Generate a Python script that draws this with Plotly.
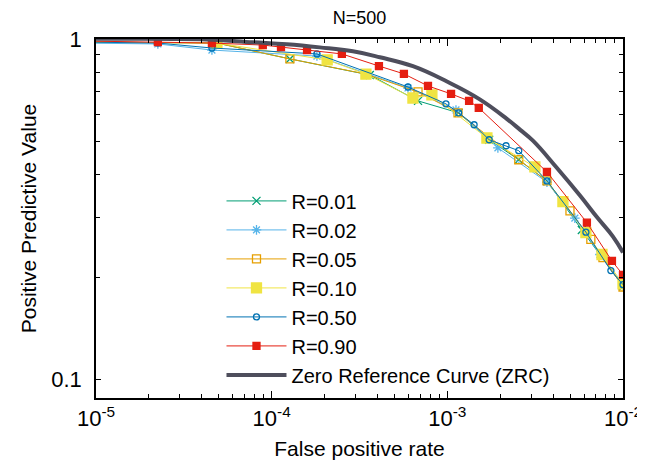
import plotly.graph_objects as go

# False positive rate / positive predictive value (N=500)
fpr_r001 = [8e-6, 4.88e-5, 1.27e-4, 3.62e-4, 6.81e-4, 1.16e-3, 1.73e-3, 2.55e-3, 3.69e-3, 5.83e-3, 1.0e-2]
ppv_r001 = [0.980, 0.973, 0.874, 0.784, 0.658, 0.607, 0.506, 0.442, 0.383, 0.275, 0.188]

fpr_r002 = [8e-6, 2.25e-5, 4.57e-5, 1.81e-4, 5.97e-4, 1.12e-3, 1.94e-3, 3.69e-3, 5.32e-3, 7.39e-3, 1.0e-2]
ppv_r002 = [0.973, 0.967, 0.928, 0.891, 0.718, 0.619, 0.479, 0.380, 0.298, 0.233, 0.190]

fpr_r005 = [8e-6, 4.88e-5, 1.27e-4, 3.44e-4, 6.81e-4, 1.15e-3, 2.55e-3, 3.69e-3, 4.99e-3, 6.56e-3, 7.69e-3, 1.0e-2]
ppv_r005 = [0.980, 0.973, 0.874, 0.789, 0.699, 0.607, 0.442, 0.383, 0.313, 0.258, 0.228, 0.187]

fpr_r010 = [8e-6, 4.88e-5, 2.07e-4, 3.44e-4, 6.37e-4, 8.17e-4, 1.68e-3, 3.15e-3, 4.55e-3, 6.15e-3, 7.59e-3, 1.0e-2]
ppv_r010 = [0.980, 0.973, 0.868, 0.789, 0.671, 0.685, 0.512, 0.421, 0.333, 0.270, 0.233, 0.191]

fpr_r050 = [8e-6, 2.25e-5, 4.57e-5, 1.81e-4, 5.97e-4, 9.82e-4, 1.16e-3, 1.42e-3, 1.73e-3, 2.16e-3, 2.55e-3, 3.69e-3, 6.15e-3, 8.53e-3, 1.0e-2]
ppv_r050 = [0.980, 0.973, 0.941, 0.904, 0.723, 0.645, 0.607, 0.560, 0.506, 0.486, 0.470, 0.383, 0.271, 0.209, 0.190]

fpr_r090 = [8e-6, 2.25e-5, 4.57e-5, 8.9e-5, 1.13e-4, 1.59e-4, 2.51e-4, 4.08e-4, 5.66e-4, 7.76e-4, 1.05e-3, 1.33e-3, 1.51e-3, 3.69e-3, 6.23e-3, 8.65e-3, 1.0e-2]
ppv_r090 = [0.987, 0.980, 0.973, 0.960, 0.947, 0.928, 0.904, 0.833, 0.790, 0.728, 0.690, 0.658, 0.628, 0.407, 0.289, 0.223, 0.203]

fpr_zrc = [8e-6, 3.91e-5, 7.83e-5, 1.22e-4, 1.88e-4, 2.90e-4, 4.13e-4, 6.37e-4, 9.95e-4, 1.53e-3, 2.18e-3, 2.60e-3, 3.07e-3, 4.21e-3, 5.69e-3, 7.10e-3, 8.77e-3, 1.0e-2]
ppv_zrc = [1.0, 0.998, 0.978, 0.965, 0.945, 0.920, 0.884, 0.832, 0.750, 0.665, 0.583, 0.541, 0.503, 0.418, 0.347, 0.300, 0.263, 0.236]

x_major = [1e-5, 1e-4, 1e-3, 1e-2]
x_major_text = ['10<sup>-5</sup>', '10<sup>-4</sup>', '10<sup>-3</sup>', '10<sup>-2</sup>']
y_major = [0.1, 1]
y_major_text = ['0.1', '1']

series = [
    ('R=0.01', fpr_r001, ppv_r001, '#009e73', 'x-thin', 8),
    ('R=0.02', fpr_r002, ppv_r002, '#56b4e9', 'asterisk', 8),
    ('R=0.05', fpr_r005, ppv_r005, '#e69f00', 'square-open', 8),
    ('R=0.10', fpr_r010, ppv_r010, '#f0e442', 'square', 10),
    ('R=0.50', fpr_r050, ppv_r050, '#0072b2', 'circle-open', 6),
    ('R=0.90', fpr_r090, ppv_r090, '#e51e10', 'square', 7),
]

fig = go.Figure()

for name, xs, ys, color, symbol, size in series:
    fig.add_trace(go.Scatter(
        x=xs, y=ys,
        mode='lines+markers',
        name=name,
        line=dict(color=color, width=1),
        marker=dict(symbol=symbol, size=size, color=color,
                    line=dict(color=color, width=1.3))
    ))

# Zero reference curve on top, thick dark line
fig.add_trace(go.Scatter(
    x=fpr_zrc, y=ppv_zrc,
    mode='lines',
    name='Zero Reference Curve (ZRC)',
    line=dict(color='#4e4e5c', width=4, shape='spline', smoothing=1.2)
))

minor_x = [m * 10 ** e for e in (-5, -4, -3) for m in range(2, 10)]
minor_y = [m / 10 for m in range(2, 10)]

fig.update_xaxes(
    type='log',
    range=[-5, -2],
    automargin=False,
    tickmode='array',
    tickvals=x_major,
    ticktext=x_major_text,
    tickfont=dict(size=22),
    ticks='inside',
    ticklen=7,
    tickcolor='black',
    minor=dict(tickmode='array', tickvals=minor_x, ticks='inside', ticklen=4, tickcolor='black'),
    showline=True,
    linecolor='black',
    linewidth=1.5,
    mirror='ticks',
    showgrid=False,
    zeroline=False,
    title=dict(text='False positive rate', standoff=21, font=dict(size=21)),
)

fig.update_yaxes(
    type='log',
    range=[-1.054, 0],
    automargin=False,
    tickmode='array',
    tickvals=y_major,
    ticktext=y_major_text,
    tickfont=dict(size=22),
    ticklabelstandoff=8,
    ticks='inside',
    ticklen=5,
    tickcolor='black',
    minor=dict(tickmode='array', tickvals=minor_y, ticks='inside', ticklen=4, tickcolor='black'),
    showline=True,
    linecolor='black',
    linewidth=1.5,
    mirror='ticks',
    showgrid=False,
    zeroline=False,
    title=dict(text='Positive Predictive Value', standoff=9, font=dict(size=21)),
)

# the page body adds an 8px offset, so the figure is sized to fit the 645x468 view
fig.update_layout(
    width=637,
    height=452,
    template='plotly_white',
    plot_bgcolor='white',
    paper_bgcolor='white',
    font=dict(family='Liberation Sans, Arial, sans-serif', size=20, color='black'),
    title=dict(text='N=500', x=0.5, xref='paper', xanchor='center',
               y=0.978, yanchor='middle', font=dict(size=18)),
    showlegend=True,
    legend=dict(
        x=0.87, xanchor='right',
        y=0.01, yanchor='bottom',
        bgcolor='rgba(0,0,0,0)',
        font=dict(size=20),
        tracegroupgap=0,
        itemwidth=60,
    ),
    margin=dict(l=88, r=22, t=31, b=62, pad=0),
)

fig.write_html("out.html")
